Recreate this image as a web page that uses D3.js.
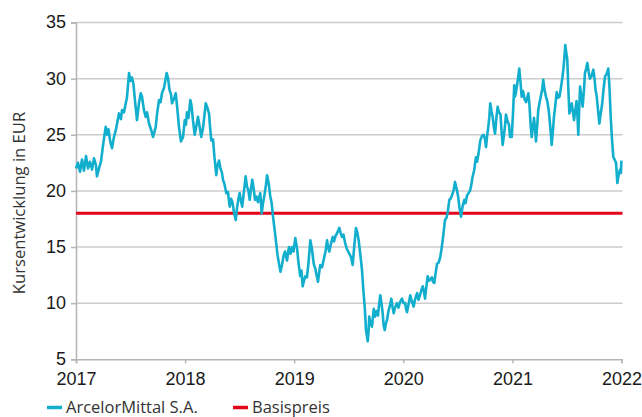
<!DOCTYPE html>
<html><head><meta charset="utf-8">
<script src="https://cdn.jsdelivr.net/npm/d3@7/dist/d3.min.js"></script>
<style>body{margin:0;background:#fff}svg{display:block}</style>
</head><body>
<svg id="chart" width="642" height="417"></svg>
<script>
// ---- data ----
const dates = [
 2017.000,2017.018,2017.037,2017.055,2017.073,2017.092,2017.110,2017.128,2017.147,2017.165,
 2017.183,2017.192,2017.211,2017.229,2017.247,2017.272,2017.284,2017.298,2017.312,2017.330,
 2017.348,2017.367,2017.394,2017.412,2017.422,2017.440,2017.456,2017.467,2017.486,2017.500,
 2017.513,2017.527,2017.541,2017.559,2017.577,2017.593,2017.605,2017.623,2017.639,2017.651,
 2017.669,2017.687,2017.706,2017.720,2017.731,2017.742,2017.761,2017.775,2017.788,2017.807,
 2017.820,2017.831,2017.843,2017.857,2017.871,2017.880,2017.898,2017.914,2017.926,2017.944,
 2017.962,2017.981,2017.997,2018.008,
 2018.017,2018.031,2018.048,2018.059,2018.072,2018.088,2018.100,2018.118,2018.132,2018.148,
 2018.164,2018.178,2018.189,2018.201,2018.219,2018.228,2018.240,2018.256,2018.269,2018.286,
 2018.297,2018.311,2018.324,2018.338,2018.347,2018.361,2018.378,2018.393,2018.409,2018.421,
 2018.434,2018.448,2018.464,2018.476,2018.489,2018.500,2018.512,2018.524,2018.540,2018.555,
 2018.567,2018.581,2018.592,2018.604,2018.616,2018.627,2018.641,2018.654,2018.668,2018.689,
 2018.702,2018.714,2018.730,2018.742,2018.751,2018.764,2018.781,2018.792,2018.806,2018.821,
 2018.833,2018.847,2018.861,2018.874,2018.888,2018.902,2018.916,2018.934,2018.952,2018.966,
 2018.980,2018.994,
 2019.010,2019.026,2019.039,2019.056,2019.067,2019.078,2019.090,2019.102,2019.117,2019.131,
 2019.148,2019.163,2019.179,2019.195,2019.209,2019.218,2019.227,2019.239,2019.255,2019.273,
 2019.287,2019.301,2019.310,2019.322,2019.337,2019.353,2019.365,2019.379,2019.392,2019.413,
 2019.424,2019.438,2019.452,2019.466,2019.484,2019.505,2019.521,2019.536,2019.548,2019.566,
 2019.578,2019.591,2019.603,2019.612,2019.621,2019.633,2019.646,2019.654,2019.658,2019.674,
 2019.681,2019.688,2019.699,2019.713,2019.729,2019.741,2019.754,2019.768,2019.777,2019.789,
 2019.800,2019.811,2019.820,2019.830,2019.841,2019.851,2019.864,2019.878,2019.890,2019.901,
 2019.912,2019.924,2019.942,2019.956,2019.970,2019.988,
 2020.002,2020.018,2020.025,2020.034,2020.048,2020.064,2020.080,2020.095,2020.107,2020.126,
 2020.139,2020.153,2020.167,2020.178,2020.190,2020.199,2020.213,2020.224,2020.236,2020.249,
 2020.263,2020.272,2020.284,2020.295,2020.309,2020.323,2020.339,2020.350,2020.361,2020.373,
 2020.382,2020.396,2020.407,2020.422,2020.433,2020.446,2020.462,2020.474,2020.488,2020.501,
 2020.515,2020.529,2020.543,2020.559,2020.570,2020.584,2020.598,2020.611,2020.621,2020.634,
 2020.651,2020.657,2020.666,2020.676,2020.689,2020.706,2020.721,2020.737,2020.749,2020.758,
 2020.767,2020.779,2020.788,2020.797,2020.808,2020.819,2020.831,2020.841,2020.854,2020.865,
 2020.877,2020.891,2020.900,2020.911,2020.923,2020.932,2020.941,2020.955,2020.969,2020.978,
 2020.994,
 2021.005,2021.017,2021.024,2021.033,2021.045,2021.054,2021.063,2021.074,2021.085,2021.097,
 2021.111,2021.125,2021.146,2021.157,2021.166,2021.177,2021.189,2021.198,2021.207,2021.216,
 2021.228,2021.237,2021.248,2021.262,2021.274,2021.283,2021.294,2021.308,2021.322,2021.335,
 2021.349,2021.360,2021.372,2021.381,2021.395,2021.406,2021.418,2021.432,2021.445,2021.457,
 2021.467,2021.476,2021.485,2021.494,2021.503,2021.512,2021.522,2021.533,2021.544,2021.555,
 2021.565,2021.578,2021.588,2021.597,2021.604,2021.612,2021.620,2021.632,2021.644,2021.656,
 2021.665,2021.676,2021.687,2021.699,2021.711,2021.725,2021.742,2021.753,2021.762,2021.773,
 2021.785,2021.797,2021.808,2021.821,2021.835,2021.849,2021.863,2021.879,2021.890,2021.901,
 2021.913,2021.925,2021.936,2021.950,2021.962,2021.973,2021.986,2021.995,2021.999
];
const prices = [
 22.0,22.5,21.7,22.8,21.8,23.1,22.0,22.6,21.9,22.9,
 22.3,21.3,22.0,22.6,24.0,25.7,25.0,25.5,24.5,23.8,
 24.8,25.5,26.9,26.4,27.2,27.0,27.8,28.3,30.5,29.8,
 30.1,29.5,28.0,26.3,27.8,28.7,28.4,27.2,26.6,27.0,
 26.0,25.5,24.8,25.3,25.7,26.8,28.1,27.9,28.7,29.2,
 29.9,30.5,30.1,29.0,28.6,27.8,28.2,28.7,27.6,25.7,
 24.4,24.8,26.3,25.9,
 27.0,26.5,28.1,27.6,26.3,25.0,25.6,26.6,25.8,24.8,
 25.6,26.8,27.8,27.5,26.9,25.8,24.5,24.6,23.0,21.4,
 22.3,22.7,22.0,21.6,21.0,20.6,19.8,19.9,18.6,19.3,
 19.0,18.1,17.4,18.5,19.3,19.8,19.1,18.6,20.0,21.3,
 20.4,20.0,19.2,20.2,21.0,20.3,19.2,19.5,19.0,19.8,
 18.0,18.9,19.8,20.6,21.4,20.8,19.5,19.0,17.7,16.5,
 15.5,14.3,13.5,12.8,13.4,14.2,14.6,13.8,15.0,14.4,
 15.0,14.6,
 15.8,14.9,13.6,12.4,12.9,11.5,12.0,12.4,12.3,13.6,
 15.6,14.8,13.5,13.0,12.3,11.9,12.6,13.4,13.2,14.0,
 14.6,15.6,15.0,14.6,15.3,15.9,15.5,16.0,16.2,16.7,
 16.3,15.9,16.1,15.4,14.8,14.4,14.1,13.4,14.8,16.7,
 16.3,15.6,14.6,13.8,13.0,11.3,9.7,8.4,7.6,6.6,
 7.4,8.8,8.2,7.9,9.5,8.8,9.3,8.9,9.8,10.7,
 10.0,9.1,8.0,7.6,8.2,8.5,9.3,9.8,10.4,9.7,
 9.1,9.6,10.0,9.6,10.1,10.4,
 10.0,10.0,9.5,9.2,9.9,10.7,10.1,9.7,10.3,10.9,
 10.3,10.7,11.2,11.5,11.0,10.4,11.6,12.4,12.0,12.1,
 12.3,11.9,11.8,12.6,13.5,13.6,14.1,14.8,15.6,16.6,
 17.4,17.6,18.1,19.2,19.3,19.6,20.1,20.8,20.2,19.6,
 18.5,17.7,18.6,19.2,18.9,19.6,19.8,20.0,20.4,21.2,
 21.9,22.4,23.0,22.6,23.3,24.5,24.9,25.0,24.6,23.9,
 24.8,25.7,26.5,27.8,27.1,26.6,25.6,25.1,26.6,27.5,
 27.0,26.8,25.4,24.1,25.0,25.8,26.8,26.2,25.9,24.8,
 24.8,
 26.8,29.4,28.4,28.8,29.6,30.2,30.9,29.7,28.4,28.9,
 28.2,27.9,28.7,27.6,26.0,24.8,25.8,26.5,25.6,24.4,
 25.9,27.2,27.8,28.5,29.1,29.9,29.0,28.4,27.9,27.0,
 25.5,24.1,25.4,26.6,27.8,28.8,28.3,28.4,29.2,30.0,
 30.8,31.8,33.0,32.3,31.7,29.3,26.9,27.3,27.8,27.0,
 26.3,27.3,28.0,26.5,25.0,27.2,29.3,28.4,27.5,29.0,
 30.5,30.9,31.4,30.6,30.0,30.2,30.8,30.0,29.0,28.4,
 27.2,26.0,26.8,27.6,29.0,30.2,30.4,30.9,29.2,26.6,
 24.6,23.0,22.8,22.5,20.7,21.4,21.9,21.6,22.7
];
const basisPreis = 18;
const yTicks = [5, 10, 15, 20, 25, 30, 35];
const xTicks = [2017, 2018, 2019, 2020, 2021, 2022];
const yTitle = "Kursentwicklung in EUR";
const legendLabels = ["ArcelorMittal S.A.", "Basispreis"];
const colors = ["#12aecd", "#e2061b"];

// ---- chart ----
const svg = d3.select("#chart");
const x = d3.scaleLinear().domain([2017, 2022]).range([76, 621.5]);
const y = d3.scaleLinear().domain([5, 35]).range([359.3, 22.5]);

// gridlines
svg.append("g").selectAll("line").data(yTicks.filter(d => d > 5)).join("line")
  .attr("x1", x(2017)).attr("x2", x(2022) + 1)
  .attr("y1", d => y(d)).attr("y2", d => y(d))
  .attr("stroke", "#cccccc").attr("stroke-width", 1.5);

// y axis
const yAxis = svg.append("g").attr("transform", `translate(${x(2017)},0)`)
  .call(d3.axisLeft(y).tickValues(yTicks).tickSize(5).tickPadding(5).tickFormat(d3.format("d")));
yAxis.select(".domain").attr("stroke", "#b5b5b5").attr("stroke-width", 1.5);
yAxis.selectAll(".tick line").attr("stroke", "#b5b5b5").attr("stroke-width", 1.5);
yAxis.selectAll(".tick text").attr("font-family", "'Liberation Sans', Arial, sans-serif")
  .attr("font-size", 18).attr("fill", "#1a1a1a").attr("dy", "0.3em");

// x axis
const xAxis = svg.append("g").attr("transform", `translate(0,${y(5)})`)
  .call(d3.axisBottom(x).tickValues(xTicks).tickSize(4).tickPadding(9).tickFormat(d3.format("d")));
xAxis.select(".domain").attr("stroke", "#b5b5b5").attr("stroke-width", 1.5);
xAxis.selectAll(".tick line").attr("stroke", "#b5b5b5").attr("stroke-width", 1.5);
xAxis.selectAll(".tick text").attr("font-family", "'Liberation Sans', Arial, sans-serif")
  .attr("font-size", 18).attr("fill", "#1a1a1a");

// basis line
svg.append("line")
  .attr("x1", x(2017)).attr("x2", x(2022) + 1)
  .attr("y1", y(basisPreis)).attr("y2", y(basisPreis))
  .attr("stroke", colors[1]).attr("stroke-width", 3);

// price line
const series = dates.map((d, i) => ({ t: d, v: prices[i] }));
svg.append("path").datum(series)
  .attr("fill", "none").attr("stroke", colors[0]).attr("stroke-width", 2.6)
  .attr("stroke-linejoin", "round")
  .attr("d", d3.line().x(d => x(d.t)).y(d => y(d.v)));

// y title
svg.append("text")
  .attr("transform", `translate(25,203) rotate(-90)`)
  .attr("text-anchor", "middle")
  .attr("font-family", "'Open Sans', sans-serif").attr("font-size", 16.6)
  .attr("fill", "#333").text(yTitle);

// legend
const leg = svg.append("g");
const legX = [47, 233];
legendLabels.forEach((lab, i) => {
  leg.append("line").attr("x1", legX[i]).attr("x2", legX[i] + 15)
    .attr("y1", 407.5).attr("y2", 407.5).attr("stroke", colors[i]).attr("stroke-width", 3.5);
  leg.append("text").attr("x", legX[i] + 19).attr("y", 412.5)
    .attr("font-family", "'Open Sans', sans-serif").attr("font-size", 16.5)
    .attr("fill", "#333").text(lab);
});
</script>
</body></html>
